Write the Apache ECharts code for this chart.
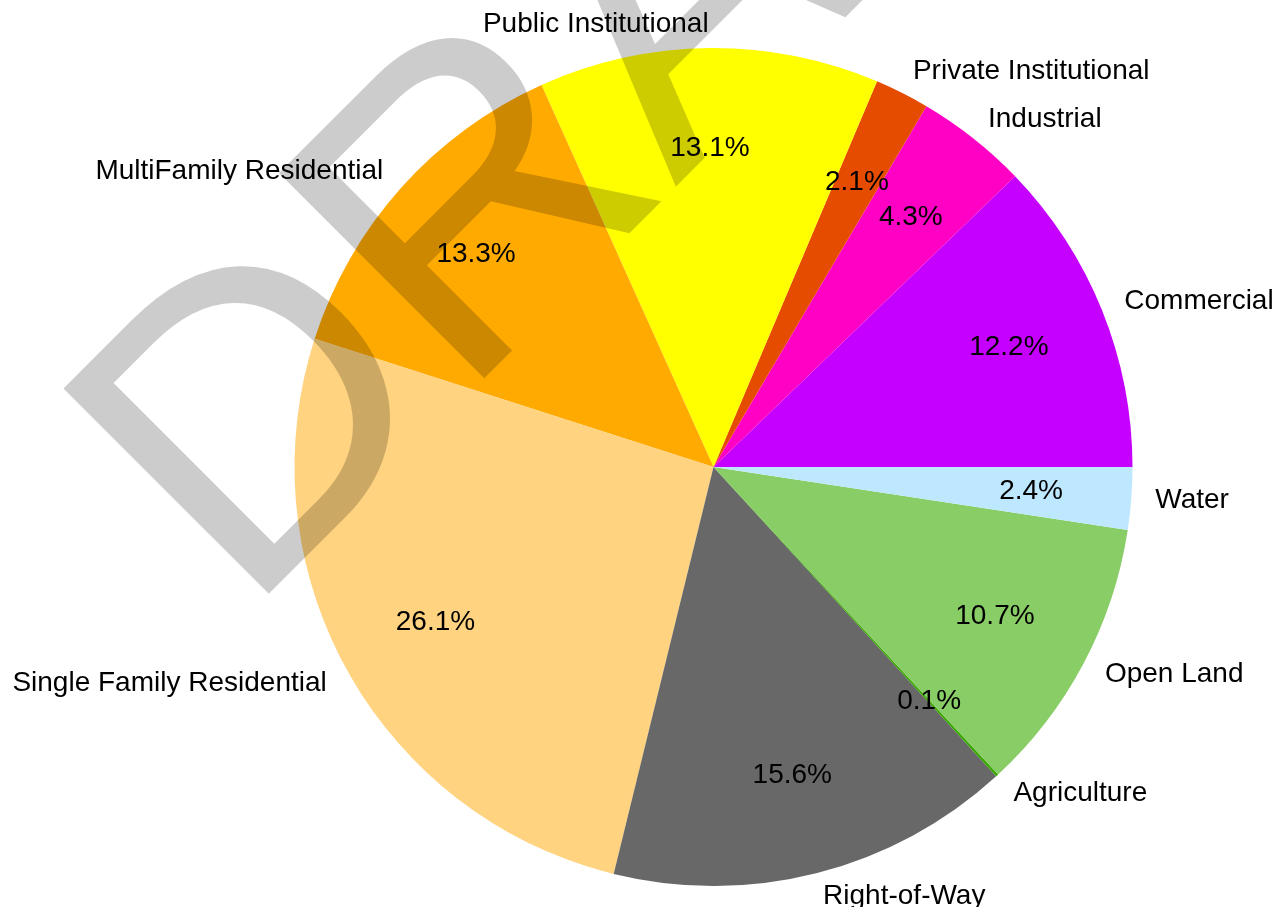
<!DOCTYPE html>
<html>
<head>
<meta charset="utf-8">
<script src="https://cdn.jsdelivr.net/npm/echarts@6/dist/echarts.min.js"></script>
<style>
  html, body { margin: 0; padding: 0; background: #fff; }
  #pie { width: 1284px; height: 907px; }
</style>
</head>
<body>
<div id="pie"></div>
<script>
// land use shares, counterclockwise from 3 o'clock
const categories = ['Commercial', 'Industrial', 'Private Institutional', 'Public Institutional',
    'MultiFamily Residential', 'Single Family Residential', 'Right-of-Way', 'Agriculture',
    'Open Land', 'Water'];
const shares = [12.2, 4.3, 2.1, 13.1, 13.3, 26.1, 15.6, 0.1, 10.7, 2.4];
const colors = ['#C500FF', '#FF00C5', '#E64C00', '#FFFF00', '#FFAA00', '#FFD37F',
    '#686868', '#38A800', '#89CD66', '#BEE8FF'];

const FONT = '"Liberation Sans", Arial, sans-serif';
const cx = 713.5, cy = 467, R = 419;

let myChart = echarts.init(document.getElementById('pie'));

let pieData = categories.map((name, i) => ({
    name: name,
    value: shares[i],
    itemStyle: { color: colors[i] }
}));

let option = {
    animation: false,
    backgroundColor: '#fff',
    series: [
        {
            // coloured wedges + category names
            type: 'pie',
            center: [cx, cy],
            radius: [0, R],
            startAngle: 0,
            clockwise: false,
            avoidLabelOverlap: false,
            silent: true,
            itemStyle: { borderWidth: 0 },
            label: {
                show: true,
                position: 'outside',
                formatter: '{b}',
                color: '#000',
                fontSize: 28,
                fontFamily: FONT,
                distanceToLabelLine: 0
            },
            labelLine: { show: false, length: 24, length2: 0 },
            emphasis: { disabled: true },
            data: pieData
        },
        {
            // transparent ring only used to place the percentages
            type: 'pie',
            center: [cx, cy],
            radius: [212, R],
            startAngle: 0,
            clockwise: false,
            avoidLabelOverlap: false,
            silent: true,
            itemStyle: { color: 'rgba(0,0,0,0)', borderWidth: 0 },
            label: {
                show: true,
                position: 'inside',
                formatter: p => p.value.toFixed(1) + '%',
                color: '#000',
                fontSize: 28,
                fontFamily: FONT,
                textBorderWidth: 0
            },
            labelLine: { show: false },
            emphasis: { disabled: true },
            data: categories.map((name, i) => ({ name: name, value: shares[i] }))
        }
    ],
    graphic: [
        {
            type: 'text',
            x: 162,
            y: 536,
            rotation: Math.PI / 4,
            z: 100,
            silent: true,
            style: {
                text: 'DRAFT',
                font: '422px ' + FONT,
                fill: 'rgba(0,0,0,0.2)',
                align: 'left',
                verticalAlign: 'middle'
            }
        }
    ]
};
myChart.setOption(option);
</script>
</body>
</html>
